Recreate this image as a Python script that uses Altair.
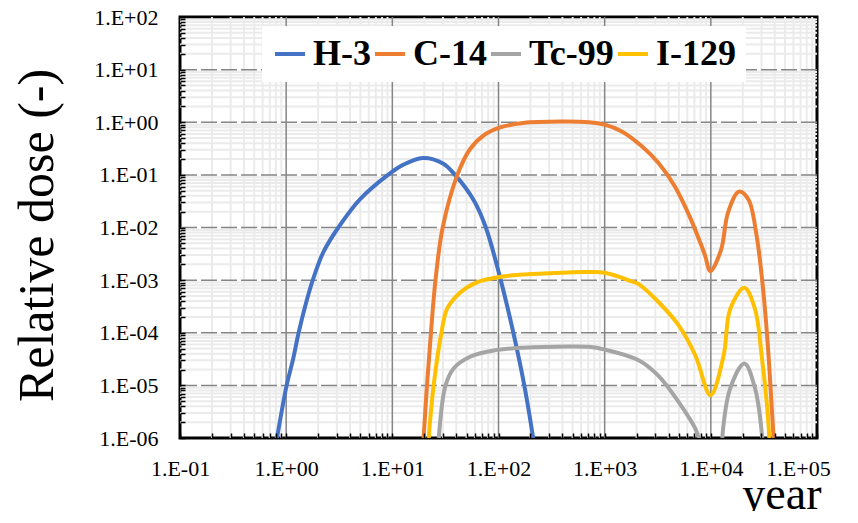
import altair as alt
import pandas as pd

# ---- data ----
nuclides = ["H-3", "C-14", "Tc-99", "I-129"]
colors = ["#4472C4", "#ED7D31", "#A5A5A5", "#FFC000"]

h3_year = [0.82, 1.01, 1.16, 1.31, 1.51, 1.78, 2.24, 3.1, 5.0, 9.1, 12.6, 19.4, 30, 39, 59, 76,
           105, 138, 175, 212]
h3_dose = [1e-6, 1e-5, 3.1e-5, 1e-4, 3.2e-4, 1e-3, 3.4e-3, 1e-2, 0.035, 0.1, 0.155, 0.21, 0.165,
           0.1, 0.032, 1e-2, 1e-3, 1e-4, 1e-5, 1e-6]

c14_year = [19.7, 21.2, 23.1, 25.5, 29.8, 41.0, 54, 72, 104, 172, 400, 708, 1000, 1450, 2240,
            3200, 4570, 6100, 8200, 8860, 9900, 12500, 14500, 18400, 22600, 27000, 31000, 34600,
            37400, 39000]
c14_dose = [1e-6, 1e-5, 1e-4, 1e-3, 1e-2, 0.1, 0.31, 0.56, 0.8, 0.97, 1.03, 1.0, 0.9, 0.67, 0.35,
            0.17, 0.061, 0.019, 4.4e-3, 2.85e-3, 1.48e-3, 3.8e-3, 0.019, 0.048, 0.034, 6.9e-3, 7e-4,
            5e-5, 4e-6, 1e-6]

# Tc-99 drops below the axis between its two humps: two segments
tc99_year_a = [27.4, 31.7, 37.8, 54, 90, 172, 450, 708, 1000, 2090, 3230, 4980, 7150, 7700]
tc99_dose_a = [1e-6, 1e-5, 2.1e-5, 3.5e-5, 4.6e-5, 5.2e-5, 5.5e-5, 5.4e-5, 4.8e-5, 3.0e-5, 1.5e-5,
               4.8e-6, 1.5e-6, 1e-6]
tc99_year_b = [12800, 15200, 20700, 26100, 30500]
tc99_dose_b = [1e-6, 8.7e-6, 2.6e-5, 8.7e-6, 1e-6]

i129_year = [22, 24.5, 29, 32.7, 43.6, 62.5, 120, 172, 450, 708, 1000, 1800, 2090, 3230, 4980,
             7150, 9930, 13200, 15200, 20700, 26100, 30100, 33600, 35600]
i129_dose = [1e-6, 1e-5, 1e-4, 2.8e-4, 5.8e-4, 9.1e-4, 1.2e-3, 1.28e-3, 1.4e-3, 1.42e-3, 1.38e-3,
             9.5e-4, 8.4e-4, 3.8e-4, 1.38e-4, 3.7e-5, 6.5e-6, 3.7e-5, 2.8e-4, 7.2e-4, 2.8e-4,
             3.7e-5, 4.8e-6, 1e-6]

x_major = [0.1, 1, 10, 100, 1000, 10000, 100000]
y_major = [1e-6, 1e-5, 1e-4, 1e-3, 1e-2, 1e-1, 1, 10, 100]
x_minor = [m * 10.0 ** e for e in range(-1, 5) for m in range(2, 10)]
y_minor = [m * 10.0 ** e for e in range(-6, 2) for m in range(2, 10)]

rows = []
for name, seg, yrs, doses in [("H-3", "H-3", h3_year, h3_dose),
                              ("C-14", "C-14", c14_year, c14_dose),
                              ("Tc-99", "Tc-99a", tc99_year_a, tc99_dose_a),
                              ("Tc-99", "Tc-99b", tc99_year_b, tc99_dose_b),
                              ("I-129", "I-129", i129_year, i129_dose)]:
    for i, (yr, d) in enumerate(zip(yrs, doses)):
        rows.append({"year": yr, "dose": d, "nuclide": name, "seg": seg, "idx": i})
df = pd.DataFrame(rows)

W, H = 637, 421
FONT = "Liberation Serif"

xs = alt.Scale(type="log", domain=[0.1, 1e5], nice=False)
ys = alt.Scale(type="log", domain=[1e-6, 1e2], nice=False)

lab_expr = ("'1.E' + (datum.value >= 0.999 ? '+' : '-') + "
            "(abs(round(log(datum.value)/LN10)) < 10 ? '0' : '') + abs(round(log(datum.value)/LN10))")

# ---- grid lines (drawn as rules from the tick lists, through the scales) ----
v_minor = alt.Chart(pd.DataFrame({"v": x_minor})).mark_rule(color="#ebebeb", strokeWidth=2).encode(
    x=alt.X("v:Q", scale=xs, axis=None))
h_minor = alt.Chart(pd.DataFrame({"v": y_minor})).mark_rule(color="#ebebeb", strokeWidth=2).encode(
    y=alt.Y("v:Q", scale=ys, axis=None))
v_major = alt.Chart(pd.DataFrame({"v": x_major[1:-1]})).mark_rule(color="#858585", strokeWidth=1.5).encode(
    x=alt.X("v:Q", scale=xs, axis=None))
h_major = alt.Chart(pd.DataFrame({"v": y_major[1:-1]})).mark_rule(
    color="#858585", strokeWidth=1.5, strokeDash=[16, 4]).encode(
    y=alt.Y("v:Q", scale=ys, axis=None))

base = alt.Chart(df)

label_axes = base.mark_line(opacity=0).encode(
    x=alt.X("year:Q", scale=xs, axis=alt.Axis(
        orient="bottom", values=x_major, grid=False,
        labelExpr=lab_expr, labelFont=FONT, labelFontSize=22, labelColor="black",
        labelPadding=20, ticks=False, domain=False, labelFlush=False,
        labelOffset=alt.condition("datum.value > 50000", alt.value(-19), alt.value(0)),
        title="year", titleFont=FONT, titleFontSize=46, titleFontWeight="normal",
        titleColor="black", titleAlign="right", titleBaseline="alphabetic",
        titleX=641, titleY=70)),
    y=alt.Y("dose:Q", scale=ys, axis=alt.Axis(
        orient="left", values=y_major, grid=False,
        labelExpr=lab_expr, labelFont=FONT, labelFontSize=22,
        labelColor="black", labelPadding=22, ticks=False, domain=False, labelFlush=False,
        title="Relative dose (-)", titleFont=FONT, titleFontSize=50, titleFontWeight="normal",
        titleColor="black", titleAngle=270, titleAlign="center", titleBaseline="middle",
        titleX=-143, titleY=218)),
    detail="seg:N",
)

inner_ticks = base.mark_line(opacity=0).encode(
    x=alt.X("year:Q", scale=xs, axis=alt.Axis(orient="top", offset=-H, values=x_minor + x_major,
                                               ticks=True, tickColor="black", tickSize=5, tickWidth=1.5,
                                               labels=False, grid=False, domain=False, title=None,
                                               zindex=1)),
    y=alt.Y("dose:Q", scale=ys, axis=alt.Axis(orient="right", offset=-W, values=y_minor + y_major,
                                               ticks=True, tickColor="black", tickSize=5, tickWidth=1.5,
                                               labels=False, grid=False, domain=False, title=None,
                                               zindex=1)),
    detail="seg:N",
)

lines = base.mark_line(strokeWidth=4, clip=True, interpolate="catmull-rom").encode(
    x=alt.X("year:Q", scale=xs, axis=None),
    y=alt.Y("dose:Q", scale=ys, axis=None),
    color=alt.Color("nuclide:N", scale=alt.Scale(domain=nuclides, range=colors),
                    legend=alt.Legend(
                        orient="none", legendX=82, legendY=9, direction="horizontal",
                        fillColor="white", padding=10, title=None, zindex=3,
                        symbolType="stroke", symbolSize=900, symbolStrokeWidth=4,
                        labelFont=FONT, labelFontWeight="bold", labelFontSize=36,
                        labelColor="black", labelOffset=5, columnPadding=-4, labelLimit=400)),
    detail="seg:N",
    order="idx:Q",
)

chart = alt.layer(v_minor, h_minor, v_major, h_major, label_axes, inner_ticks, lines).resolve_scale(
    x="independent", y="independent"
).properties(
    width=W, height=H,
    padding={"left": 172, "top": 9, "right": 25, "bottom": 73},
    autosize="none",
    background="white",
).configure_view(stroke="black", strokeWidth=3)

chart.save("out.html", embed_options={"renderer": "svg", "actions": False})
